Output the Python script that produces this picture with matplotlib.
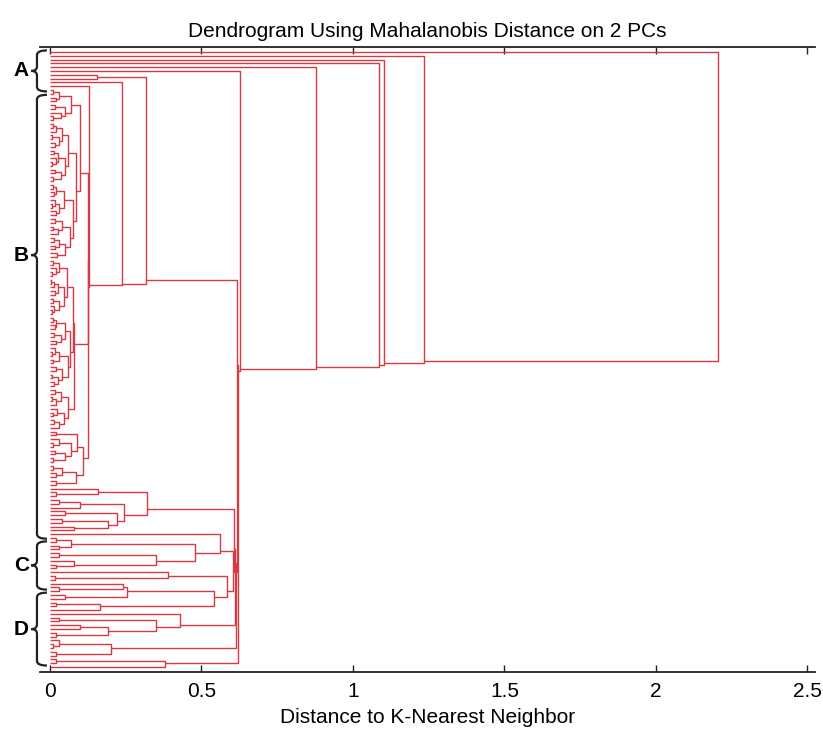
import numpy as np
import matplotlib
matplotlib.use("Agg")
import matplotlib.pyplot as plt
from matplotlib.collections import LineCollection
from matplotlib.path import Path
from matplotlib.patches import PathPatch

# tree nodes: [merge distance, left child, right child]; 0 is a single sample
# upper part of group B
Yu1 = [0.07, [0.03, [0.01, 0, 0], [0.02, 0, 0]],
       [0.05, [0.015, 0, 0], [0.035, 0, [0.01, 0, 0]]]]
Yu2 = [0.085,
       [0.06, [0.04, [0.02, [0.01, 0, 0], 0], [0.03, [0.008, 0, 0], [0.015, 0, 0]]],
        [0.05, [0.025, [0.012, 0, 0], [0.02, 0, [0.006, 0, 0]]], [0.035, [0.018, 0, 0], [0.01, 0, 0]]]],
       [0.075, [0.045, [0.02, [0.01, 0, 0], [0.012, 0, 0]], [0.03, [0.015, 0, [0.005, 0, 0]], [0.02, 0, 0]]],
        [0.065, [0.04, [0.018, 0, 0], [0.025, [0.01, 0, 0], 0]],
         [0.05, [0.03, [0.012, 0, 0], [0.016, 0, 0]], [0.022, 0, 0]]]]]
# lower part of group B
Yl1 = [0.075,
       [0.055, [0.03, [0.01, 0, 0], [0.02, 0, [0.007, 0, 0]]],
        [0.045, [0.025, [0.012, [0.004, 0, 0], 0], [0.018, 0, 0]], [0.03, [0.01, 0, 0], [0.014, 0, [0.006, 0, 0]]]]],
       [0.065, [0.05, [0.02, [0.01, 0, 0], [0.015, 0, 0]], [0.035, [0.012, 0, 0], [0.02, 0, 0]]],
        [0.058, [0.03, [0.015, 0, [0.005, 0, 0]], [0.01, 0, 0]],
         [0.04, [0.02, 0, 0], [0.025, [0.008, 0, 0], [0.012, 0, 0]]]]]]
Yl2 = [0.06, [0.035, [0.015, 0, 0], [0.02, [0.008, 0, 0], 0]],
       [0.045, [0.022, 0, [0.01, 0, 0]], [0.03, [0.012, 0, 0], 0]]]
Y2 = [0.11, [0.09, [0.02, 0, 0], [0.07, [0.03, 0, [0.01, 0, 0]], [0.05, [0.015, 0, 0], [0.01, 0, 0]]]],
      [0.085, [0.04, [0.01, 0, 0], [0.02, 0, 0]], [0.02, 0, 0]]]

Yu = [0.10, Yu1, Yu2]
Yl = [0.08, Yl1, Yl2]
groupB = [0.317, [0.155, 0, 0],
          [0.238, 0, [0.128, 0, [0.126, [0.125, Yu, Yl], Y2]]]]

# groups C / D and their neighbours
E = [0.32, [0.16, 0, [0.02, 0, 0]],
     [0.245, [0.10, [0.03, 0, 0], 0], [0.22, [0.05, 0, 0], [0.19, [0.04, 0, 0], [0.08, 0, 0]]]]]
F = [0.56, 0, [0.48, [0.07, [0.02, 0, 0], [0.03, 0, 0]], [0.35, [0.03, 0, 0], [0.08, 0, [0.02, 0, 0]]]]]
I = [0.39, 0, [0.015, 0, 0]]
K = [0.54, [0.255, [0.24, 0, [0.03, 0, 0]], [0.05, 0, 0]], [0.165, [0.02, 0, 0], 0]]
R = [0.43, 0, [0.35, [0.03, 0, 0], [0.19, [0.10, 0, 0], [0.02, 0, 0]]]]
S = [0.20, [0.03, 0, [0.01, 0, 0]], [0.02, 0, 0]]
T = [0.38, [0.02, 0, 0], 0]

# chain of merges near 0.6 and the outliers at the top
lower = [0.627, 0, [0.622, [0.617, groupB, [0.613, [0.610, [0.607, E, [0.604, F, [0.585, I, K]]], R], S]], T]]
tree = [2.205, 0, [1.234, 0, [1.102, 0, [1.086, 0, [0.878, 0, lower]]]]]

brace_names = ["A", "B", "C", "D"]
brace_lo = [-0.4, 11.3, 128.9, 142.4]
brace_hi = [10.4, 128.2, 141.6, 161.6]
brace_tip = [5.0, 53.5, 135.2, 152.0]

xticks = [0, 0.5, 1, 1.5, 2, 2.5]
xticklabels = ["0", "0.5", "1", "1.5", "2", "2.5"]

segs = []
counter = [0]


def walk(node):
    if node == 0:
        i = counter[0]
        counter[0] += 1
        return 0.0, float(i), [i]
    h, a, b = node
    ha, ya, la = walk(a)
    hb, yb, lb = walk(b)
    segs.append([(ha, ya), (h, ya), (h, yb), (hb, yb)])
    leaves = la + lb
    return h, float(np.mean(leaves)), leaves


walk(tree)
n = counter[0]

plt.rcParams['font.family'] = ['Liberation Sans', 'DejaVu Sans']
fig = plt.figure(figsize=(8.23, 7.40), dpi=100)
ax = fig.add_axes([40 / 823, 1 - 672 / 740, 775 / 823, 625 / 740])

ax.add_collection(LineCollection(segs, colors="#d63a44", linewidths=1.0))
ax.set_xlim(-0.033, 2.525)
ax.set_ylim(n + 0.3, -1.3)

ax.set_xticks(xticks)
ax.set_xticklabels(xticklabels, fontsize=15)
ax.set_yticks([])
ax.tick_params(axis="x", direction="in", top=True, length=5, width=1, color="#222222", pad=7)
for side in ["left", "right"]:
    ax.spines[side].set_visible(False)
for side in ["top", "bottom"]:
    ax.spines[side].set_color("#222222")
    ax.spines[side].set_linewidth(1.3)

ax.set_title("Dendrogram Using Mahalanobis Distance on 2 PCs", fontsize=15, pad=7)
ax.set_xlabel("Distance to K-Nearest Neighbor", fontsize=15, labelpad=5)

# curly braces marking the sample groups
xr, xs, xt = -0.01, -0.043, -0.062
for name, lo, hi, tip in zip(brace_names, brace_lo, brace_hi, brace_tip):
    r = 1.2
    verts = [(xr, lo), (xs, lo), (xs, lo + r), (xs, tip - r), (xs, tip), (xt, tip),
             (xs, tip), (xs, tip + r), (xs, hi - r), (xs, hi), (xr, hi)]
    codes = [Path.MOVETO, Path.CURVE3, Path.CURVE3, Path.LINETO, Path.CURVE3, Path.CURVE3,
             Path.CURVE3, Path.CURVE3, Path.LINETO, Path.CURVE3, Path.CURVE3]
    ax.add_patch(PathPatch(Path(verts, codes), fill=False, lw=1.6, ec="#222222", clip_on=False))
    ax.text(-0.095, tip, name, fontsize=15, fontweight="bold", ha="center", va="center", clip_on=False)

fig.savefig("out.png", dpi=100)
